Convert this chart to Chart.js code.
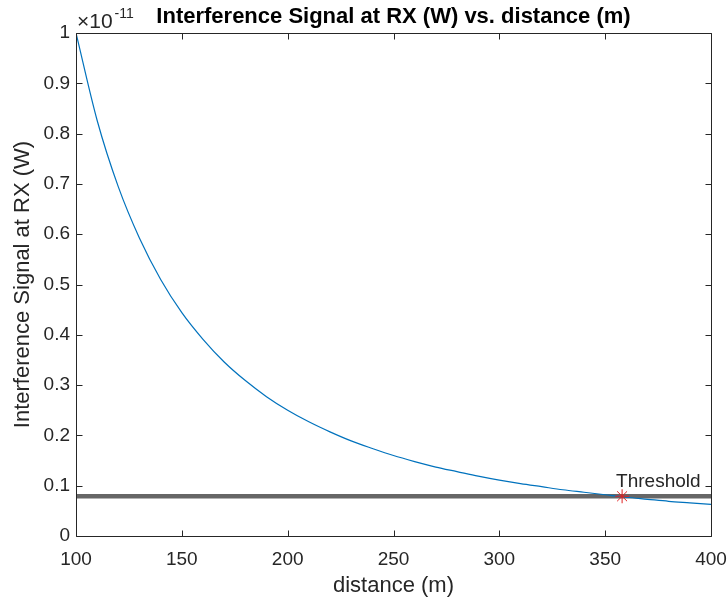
<!DOCTYPE html>
<html>
<head>
<meta charset="utf-8">
<script src="https://cdn.jsdelivr.net/npm/chart.js@4.4.1/dist/chart.umd.min.js"></script>
<style>
  html, body { margin: 0; padding: 0; background: #fff; }
  canvas { display: block; }
</style>
</head>
<body>
<canvas id="chart" width="727" height="601"></canvas>
<script>
// interference power at the receiver, in units of 1e-11 W
var distances = [100, 110, 120, 130, 140, 150, 160, 170, 180, 190,
                 200, 210, 220, 230, 240, 250, 260, 270, 280, 290,
                 300, 310, 320, 330, 340, 350, 360, 370, 380, 390, 400];
var interference = [1.000, 0.826, 0.694, 0.592, 0.510, 0.444, 0.391, 0.346, 0.309, 0.277,
                    0.250, 0.227, 0.207, 0.189, 0.174, 0.160, 0.148, 0.137, 0.128, 0.119,
                    0.111, 0.104, 0.098, 0.092, 0.087, 0.082, 0.077, 0.073, 0.069, 0.066, 0.063];

var thresholdLevel = 0.079;
var crossingDistance = 358;

var xTicks = [100, 150, 200, 250, 300, 350, 400];
var yTicks = [0, 0.1, 0.2, 0.3, 0.4, 0.5, 0.6, 0.7, 0.8, 0.9, 1];
var yExponent = '-11';

var FONT = '"Liberation Sans", Arial, Helvetica, sans-serif';
var INK = '#262626';

// matlab-style box with inward ticks, plus the threshold text and exponent
var axesBox = {
    id: 'axesBox',
    afterDatasetsDraw: function (chart) {
        var ctx = chart.ctx;
        var a = chart.chartArea;
        var xs = chart.scales.x, ys = chart.scales.y;
        var L = Math.round(a.left) + 0.5, R = Math.round(a.right) + 0.5;
        var T = Math.round(a.top) + 0.5, B = Math.round(a.bottom) + 0.5;
        var tl = 6;

        ctx.save();
        ctx.strokeStyle = INK;
        ctx.lineWidth = 1;
        ctx.beginPath();
        ctx.rect(L, T, R - L, B - T);
        xTicks.forEach(function (v) {
            var px = Math.round(xs.getPixelForValue(v)) + 0.5;
            ctx.moveTo(px, B); ctx.lineTo(px, B - tl);
            ctx.moveTo(px, T); ctx.lineTo(px, T + tl);
        });
        yTicks.forEach(function (v) {
            var py = Math.round(ys.getPixelForValue(v)) + 0.5;
            ctx.moveTo(L, py); ctx.lineTo(L + tl, py);
            ctx.moveTo(R, py); ctx.lineTo(R - tl, py);
        });
        ctx.stroke();

        ctx.fillStyle = INK;
        ctx.textAlign = 'left';
        ctx.textBaseline = 'alphabetic';

        // threshold label next to the crossing marker
        ctx.font = '19px ' + FONT;
        ctx.fillText('Threshold',
            xs.getPixelForValue(crossingDistance) - 6,
            ys.getPixelForValue(thresholdLevel) - 9);

        // exponent above the y axis
        ctx.font = '21px ' + FONT;
        ctx.fillText('\u00d710', a.left + 1, a.top - 5);
        var w = ctx.measureText('\u00d710').width;
        ctx.font = '14px ' + FONT;
        ctx.fillText(yExponent, a.left + 3 + w, a.top - 15);
        ctx.restore();
    }
};

var config = {
    type: 'line',
    data: {
        datasets: [
            {
                label: 'threshold line',
                data: [{ x: xTicks[0], y: thresholdLevel }, { x: xTicks[xTicks.length - 1], y: thresholdLevel }],
                borderColor: '#666666',
                borderWidth: 4.5,
                pointRadius: 0,
                order: 3
            },
            {
                label: 'interference',
                data: distances.map(function (d, i) { return { x: d, y: interference[i] }; }),
                borderColor: '#0072BD',
                borderWidth: 1.2,
                pointRadius: 0,
                cubicInterpolationMode: 'monotone',
                order: 2
            },
            {
                label: 'threshold crossing',
                type: 'scatter',
                data: [{ x: crossingDistance, y: thresholdLevel }],
                pointStyle: 'star',
                pointRadius: 7,
                borderColor: '#e02020',
                borderWidth: 1,
                backgroundColor: '#e02020',
                order: 1
            }
        ]
    },
    options: {
        responsive: false,
        animation: false,
        layout: { padding: { top: 0, right: 16, left: 0, bottom: 0 } },
        plugins: {
            legend: { display: false },
            tooltip: { enabled: false },
            title: {
                display: true,
                fullSize: false,
                text: 'Interference Signal at RX (W) vs. distance (m)',
                color: '#000',
                font: { family: FONT, size: 22, weight: 'bold' },
                padding: { top: 4, bottom: 2.6 }
            }
        },
        scales: {
            x: {
                type: 'linear',
                min: 100,
                max: 400,
                afterBuildTicks: function (scale) {
                    scale.ticks = xTicks.map(function (v) { return { value: v }; });
                },
                afterFit: function (scale) {
                    scale.height = 65;
                    scale.paddingLeft = 0;
                    scale.paddingRight = 0;
                },
                grid: { display: false, drawTicks: false },
                border: { display: false },
                ticks: {
                    color: INK,
                    font: { family: FONT, size: 19 },
                    padding: 12,
                    maxRotation: 0,
                    autoSkip: false
                },
                title: {
                    display: true,
                    text: 'distance (m)',
                    color: INK,
                    font: { family: FONT, size: 22 },
                    padding: { top: 0, bottom: 2 }
                }
            },
            y: {
                type: 'linear',
                min: 0,
                max: 1,
                afterBuildTicks: function (scale) {
                    scale.ticks = yTicks.map(function (v) { return { value: v }; });
                },
                afterFit: function (scale) {
                    scale.width = 76;
                    scale.paddingTop = 0;
                    scale.paddingBottom = 0;
                },
                grid: { display: false, drawTicks: false },
                border: { display: false },
                ticks: {
                    color: INK,
                    font: { family: FONT, size: 19 },
                    padding: 6,
                    callback: function (v) { return String(Number(v.toFixed(1))); }
                },
                title: {
                    display: true,
                    text: 'Interference Signal at RX (W)',
                    color: INK,
                    font: { family: FONT, size: 22 },
                    padding: { top: 10, bottom: 0 }
                }
            }
        }
    },
    plugins: [axesBox]
};

var ctx = document.getElementById('chart').getContext('2d');
var myChart = new Chart(ctx, config);
</script>
</body>
</html>
